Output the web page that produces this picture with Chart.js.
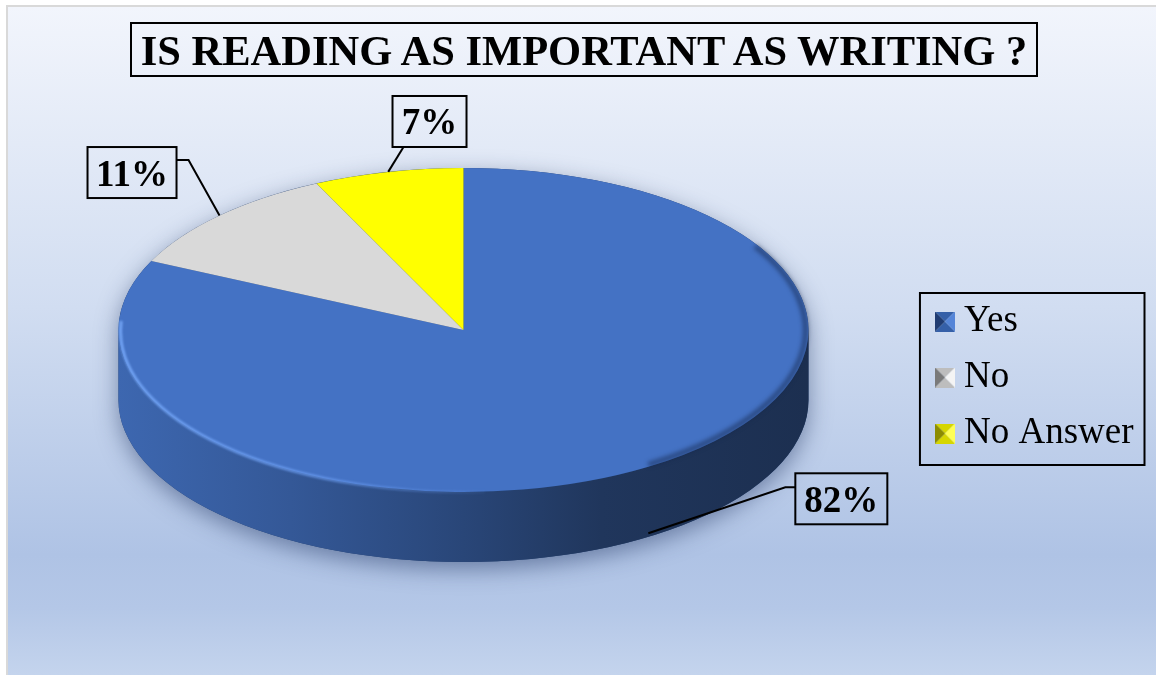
<!DOCTYPE html>
<html>
<head>
<meta charset="utf-8">
<script src="https://cdn.jsdelivr.net/npm/chart.js@4.4.1/dist/chart.umd.min.js"></script>
<style>
  html, body { margin: 0; padding: 0; background: #fff; }
  #wrap { position: relative; width: 1156px; height: 675px; overflow: hidden; }
  #chart { position: absolute; left: 0; top: 0; }
  #title {
    position: absolute; left: 130px; top: 22px; width: 904px; height: 48px;
    padding-top: 3px;
    border: 2px solid #000;
    font: bold 42.5px 'Liberation Serif', 'Times New Roman', serif;
    line-height: 48px; text-align: center; color: #000; white-space: nowrap;
  }
</style>
</head>
<body>
<div id="wrap">
  <canvas id="chart" width="1156" height="675"></canvas>
  <div id="title">IS READING AS IMPORTANT AS WRITING ?</div>
</div>
<script>
// ---- data ----
const categories = ['Yes', 'No', 'No Answer'];
const shares = [82, 11, 7];
const sliceColors = ['#4472C4', '#D9D9D9', '#FFFF00'];

// ---- look of the tilted pie ----
const TILT = 0.4696;      // vertical squash of the pie disc
const DEPTH = 70;         // thickness of the disc, px
const PIE_RADIUS = 345;

// label boxes: offset of the box centre from the slice anchor, box size,
// where the leader meets the box, and an optional elbow (both relative to box centre)
const labelPlacement = [
  { dx: 193, dy: -34.5, w: 92, h: 51, join: [-46, -11.5], elbow: [-56, -11.5] },
  { dx: -87.5, dy: -42.9, w: 89, h: 51, join: [44.5, -12.5], elbow: [56.5, -12.5] },
  { dx: 41.3, dy: -50.4, w: 74, h: 51, join: [-26, 25.5], elbow: null }
];

// legend marker facets: left, right, top/bottom
const markerShades = [
  ['#203c72', '#5585d8', '#3560a8'],
  ['#7a7a7a', '#f4f4f4', '#bdbdbd'],
  ['#8c8c00', '#ffff55', '#d6d600']
];

function bevelMarker(shades) {
  const c = document.createElement('canvas');
  c.width = 20; c.height = 20;
  const g = c.getContext('2d');
  const tri = (pts, col) => {
    g.beginPath();
    g.moveTo(pts[0][0], pts[0][1]);
    for (let i = 1; i < pts.length; i++) g.lineTo(pts[i][0], pts[i][1]);
    g.closePath();
    g.fillStyle = col;
    g.fill();
  };
  tri([[0, 0], [20, 0], [10, 10]], shades[2]);
  tri([[0, 20], [20, 20], [10, 10]], shades[2]);
  tri([[0, 0], [0, 20], [10, 10]], shades[0]);
  tri([[20, 0], [20, 20], [10, 10]], shades[1]);
  return c;
}
const markers = markerShades.map(bevelMarker);

function hexToRgb(hex) {
  const n = parseInt(hex.slice(1), 16);
  return [(n >> 16) & 255, (n >> 8) & 255, n & 255];
}
function shade(hex, f) {
  const [r, g, b] = hexToRgb(hex);
  return `rgb(${Math.round(r * f)},${Math.round(g * f)},${Math.round(b * f)})`;
}

// page background: white margin, thin grey frame, blue gradient fill
const backdrop = {
  id: 'backdrop',
  beforeDraw(chart) {
    const { ctx, width, height } = chart;
    ctx.save();
    ctx.fillStyle = '#ffffff';
    ctx.fillRect(0, 0, width, height);
    ctx.fillStyle = '#d9d9d9';
    ctx.fillRect(6, 5, width - 6, 2);
    ctx.fillRect(6, 5, 2, height - 5);
    const g = ctx.createLinearGradient(0, 7, 0, height);
    g.addColorStop(0, '#f2f5fc');
    g.addColorStop(0.45, '#d1ddf1');
    g.addColorStop(0.82, '#afc3e5');
    g.addColorStop(0.9, '#b4c7e7');
    g.addColorStop(1, '#c4d4ed');
    ctx.fillStyle = g;
    ctx.fillRect(8, 7, width - 8, height - 7);
    ctx.restore();
  }
};

// gives the pie a tilted, thick-disc look around the library's arc elements
const pie3d = {
  id: 'pie3d',
  beforeDatasetsDraw(chart) {
    const { ctx } = chart;
    const arcs = chart.getDatasetMeta(0).data;
    if (!arcs.length) return;
    const cx = arcs[0].x, cy = arcs[0].y, r = arcs[0].outerRadius, ry = r * TILT;

    // soft shadow under the disc
    ctx.save();
    ctx.beginPath();
    ctx.ellipse(cx, cy, r, ry, 0, Math.PI, 0, false);
    ctx.ellipse(cx, cy + DEPTH, r, ry, 0, 0, Math.PI, false);
    ctx.closePath();
    ctx.shadowColor = 'rgba(35,55,100,0.5)';
    ctx.shadowBlur = 22;
    ctx.shadowOffsetY = 7;
    ctx.fillStyle = '#24406f';
    ctx.fill();
    ctx.restore();

    // front walls of every slice that faces the viewer
    arcs.forEach((arc, i) => {
      const ranges = [];
      for (const base of [-2 * Math.PI, 0, 2 * Math.PI]) {
        const a0 = Math.max(arc.startAngle, base), a1 = Math.min(arc.endAngle, base + Math.PI);
        if (a1 > a0) ranges.push([a0 - base, a1 - base]);
      }
      const col = chart.data.datasets[0].backgroundColor[i];
      ranges.forEach(([a0, a1]) => {
        const g = ctx.createLinearGradient(cx - r, 0, cx + r, 0);
        g.addColorStop(0, shade(col, 0.9));
        g.addColorStop(0.25, shade(col, 0.77));
        g.addColorStop(0.5, shade(col, 0.61));
        g.addColorStop(0.7, shade(col, 0.47));
        g.addColorStop(1, shade(col, 0.41));
        ctx.save();
        ctx.beginPath();
        ctx.ellipse(cx, cy, r, ry, 0, a0, a1, false);
        ctx.ellipse(cx, cy + DEPTH, r, ry, 0, a1, a0, true);
        ctx.closePath();
        ctx.fillStyle = g;
        ctx.fill();
        ctx.restore();
      });
    });

    // squash the drawing space so the library's arcs form the top face
    ctx.save();
    ctx.translate(cx, cy);
    ctx.scale(1, TILT);
    ctx.translate(-cx, -cy);
  },
  afterDatasetsDraw(chart) {
    const { ctx } = chart;
    const arcs = chart.getDatasetMeta(0).data;
    if (!arcs.length) return;
    ctx.restore();
    const cx = arcs[0].x, cy = arcs[0].y, r = arcs[0].outerRadius, ry = r * TILT;

    // light bevel along the left-front rim
    ctx.save();
    ctx.filter = 'blur(1.2px)';
    const hl = ctx.createLinearGradient(cx - r, 0, cx + 40, 0);
    hl.addColorStop(0, 'rgba(120,170,250,0.9)');
    hl.addColorStop(0.5, 'rgba(110,160,245,0.75)');
    hl.addColorStop(1, 'rgba(110,160,245,0)');
    ctx.strokeStyle = hl;
    ctx.lineWidth = 3;
    ctx.beginPath();
    ctx.ellipse(cx, cy + 1, r - 2, ry - 1, 0, Math.PI * 0.48, Math.PI * 1.02, false);
    ctx.stroke();

    // darker bevel along the right rim of the top face
    ctx.filter = 'blur(2px)';
    ctx.strokeStyle = 'rgba(20,38,75,0.55)';
    ctx.lineWidth = 5;
    ctx.beginPath();
    ctx.ellipse(cx, cy, r - 3, ry - 2, 0, -0.55, 1.0, false);
    ctx.stroke();
    ctx.restore();
  }
};

// percentage call-outs with leader lines
const sliceLabels = {
  id: 'sliceLabels',
  afterDatasetsDraw(chart) {
    const { ctx } = chart;
    const arcs = chart.getDatasetMeta(0).data;
    if (!arcs.length) return;
    const values = chart.data.datasets[0].data;
    const total = values.reduce((a, b) => a + b, 0);
    const cx = arcs[0].x, cy = arcs[0].y, r = arcs[0].outerRadius, ry = r * TILT;
    ctx.save();
    ctx.strokeStyle = '#000';
    ctx.fillStyle = '#000';
    ctx.lineWidth = 2;
    ctx.font = "bold 37px 'Liberation Serif', 'Times New Roman', serif";
    ctx.textAlign = 'center';
    ctx.textBaseline = 'alphabetic';
    arcs.forEach((arc, i) => {
      const p = labelPlacement[i];
      const mid = (arc.startAngle + arc.endAngle) / 2;
      const ax = cx + r * Math.cos(mid);
      const ay = cy + ry * Math.sin(mid) + (Math.sin(mid) > 0 ? DEPTH * 0.95 : 0);
      const bx = ax + p.dx, by = ay + p.dy;
      ctx.beginPath();
      ctx.moveTo(ax, ay);
      if (p.elbow) ctx.lineTo(bx + p.elbow[0], by + p.elbow[1]);
      ctx.lineTo(bx + p.join[0], by + p.join[1]);
      ctx.stroke();
      ctx.strokeRect(bx - p.w / 2, by - p.h / 2, p.w, p.h);
      ctx.fillText(Math.round(values[i] / total * 100) + '%', bx, by + 13);
    });
    ctx.restore();
  }
};

// frame around the legend entries
const legendFrame = {
  id: 'legendFrame',
  afterDraw(chart) {
    const hb = chart.legend && chart.legend.legendHitBoxes;
    if (!hb || !hb.length) return;
    const { ctx } = chart;
    const left = Math.min(...hb.map(h => h.left)) - 24.5;
    const right = Math.max(...hb.map(h => h.left + h.width)) + 11;
    const top = hb[0].top - 10;
    const last = hb[hb.length - 1];
    const bottom = last.top + last.height + 13;
    ctx.save();
    ctx.strokeStyle = '#000';
    ctx.lineWidth = 2;
    ctx.strokeRect(left, top, right - left, bottom - top);
    ctx.restore();
  }
};

Chart.defaults.font.family = "'Liberation Serif', 'Times New Roman', serif";

new Chart(document.getElementById('chart'), {
  type: 'pie',
  data: {
    labels: categories,
    datasets: [{
      data: shares,
      backgroundColor: sliceColors,
      borderWidth: 0,
      radius: PIE_RADIUS,
      clip: false
    }]
  },
  options: {
    responsive: false,
    animation: false,
    layout: { padding: { left: 1.5, right: 12.5, top: 189, bottom: 204 } },
    plugins: {
      title: { display: false },
      tooltip: { enabled: false },
      legend: {
        position: 'right',
        align: 'end',
        labels: {
          usePointStyle: true,
          boxWidth: 1,
          boxHeight: 20,
          padding: 19,
          color: '#000',
          font: { family: "'Liberation Serif', 'Times New Roman', serif", size: 37 },
          generateLabels(chart) {
            const ds = chart.data.datasets[0];
            return chart.data.labels.map((text, i) => ({
              text,
              fillStyle: ds.backgroundColor[i],
              strokeStyle: ds.backgroundColor[i],
              lineWidth: 0,
              pointStyle: markers[i],
              fontColor: '#000',
              hidden: !chart.getDataVisibility(i),
              index: i
            }));
          }
        }
      }
    }
  },
  plugins: [backdrop, pie3d, sliceLabels, legendFrame]
});
</script>
</body>
</html>
